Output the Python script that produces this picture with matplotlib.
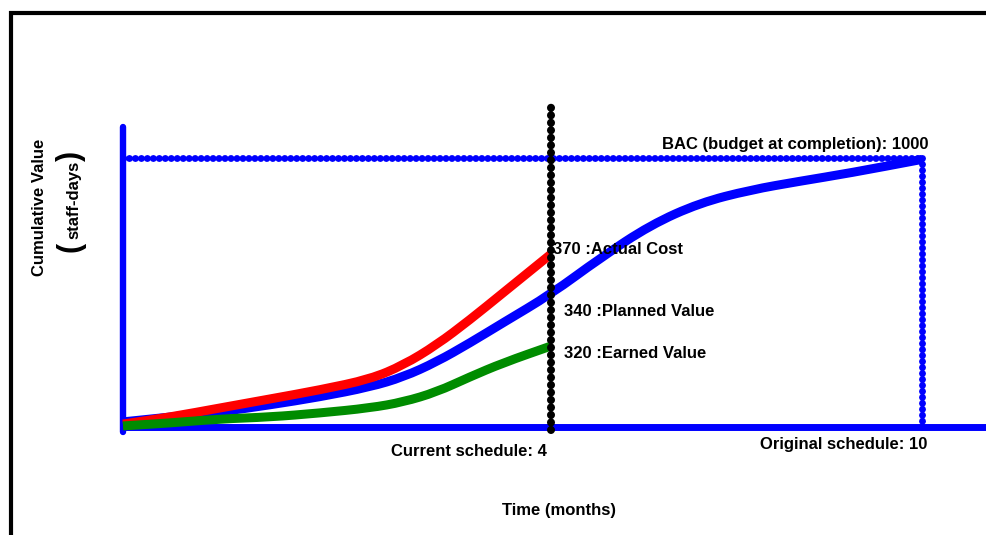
import matplotlib
matplotlib.use("Agg")
import matplotlib.pyplot as plt
from matplotlib.path import Path
from matplotlib.patches import PathPatch

plt.rcParams['font.family'] = ['Liberation Sans', 'DejaVu Sans']
plt.rcParams['font.weight'] = 'bold'

# ---- data (schematic plot units: x in "month-like" units, y in staff-days) ----
pv_x = [0.0, 0.44, 0.91, 1.37, 1.84, 2.31, 2.62, 2.93, 3.24, 3.55, 4.0,
        4.46, 4.93, 5.39, 5.86, 6.33, 6.79, 7.47]
pv_y = [19, 37, 56, 82, 112, 149, 186, 242, 312, 387, 494,
        628, 751, 833, 881, 914, 944, 995]

ac_x = [0.0, 0.44, 0.91, 1.37, 1.84, 2.31, 2.62, 2.93, 3.24, 3.55, 4.0]
ac_y = [11, 37, 71, 104, 138, 178, 230, 305, 398, 498, 643]

ev_x = [0.0, 0.44, 0.91, 1.37, 1.84, 2.31, 2.62, 2.93, 3.24, 3.55, 4.0]
ev_y = [4, 15, 30, 37, 52, 71, 93, 130, 186, 238, 301]

bac = 1000
current_pos = 4.0        # position of "current schedule" line
original_pos = 7.47      # position of "original schedule" line
current_label = 4
original_label = 10
ac_value, pv_value, ev_value = 370, 340, 320

W, H = 987, 535
fig = plt.figure(figsize=(W / 100, H / 100), dpi=100)
ax = fig.add_axes([0, 0, 1, 1])
px_per_x = 107.0
px_per_y = 0.269
x0, y0 = 123, 427
ax.set_xlim(-x0 / px_per_x, (W - x0) / px_per_x)
ax.set_ylim((y0 - H) / px_per_y, y0 / px_per_y)
ax.axis('off')

def P(px, py):
    return (px / W, 1 - py / H)

def smooth_curve(xs, ys, **kw):
    pts = list(zip(xs, ys))
    verts = [pts[0]]
    codes = [Path.MOVETO]
    mid = lambda a, b: ((a[0] + b[0]) / 2, (a[1] + b[1]) / 2)
    verts.append(mid(pts[0], pts[1])); codes.append(Path.LINETO)
    for i in range(1, len(pts) - 1):
        verts += [pts[i], mid(pts[i], pts[i + 1])]
        codes += [Path.CURVE3, Path.CURVE3]
    verts.append(pts[-1]); codes.append(Path.LINETO)
    patch = PathPatch(Path(verts, codes), fill=False, capstyle='butt',
                      joinstyle='round', **kw)
    ax.add_patch(patch)

# outer black frame (left and top)
ax.plot([11 / W, 11 / W, 1.01], [-0.01, 1 - 13 / H, 1 - 13 / H], color='black',
        lw=3.0, transform=ax.transAxes, solid_joinstyle='miter', clip_on=False)

blue = '#0000ff'
# axes
ax.plot([0, 0], [-18, 1115], color=blue, lw=4.6, solid_capstyle='round')
ax.plot([0, 9], [0, 0], color=blue, lw=5.0, solid_capstyle='butt')

# BAC dotted line and original schedule dotted line
dot = (0, (0.01, 0.85))
ax.plot([0, original_pos], [bac, bac], color=blue, lw=5.0, linestyle=dot,
        dash_capstyle='round')
ax.plot([original_pos, original_pos], [bac, 0], color=blue, lw=5.0, linestyle=dot,
        dash_capstyle='round')

# curves
smooth_curve(pv_x, pv_y, edgecolor=blue, lw=6.5, zorder=3)
smooth_curve(ac_x, ac_y, edgecolor='#ff0000', lw=6.5, zorder=3)
smooth_curve(ev_x, ev_y, edgecolor='#008c00', lw=6.5, zorder=4)

# current schedule black dotted line
ax.plot([current_pos, current_pos], [-11, 1197], color='black', lw=5.8,
        linestyle=(0, (0.01, 0.92)), dash_capstyle='round', zorder=5)

fs = 12
ax.text(*P(553, 250), f"{ac_value} :Actual Cost", transform=ax.transAxes, fontsize=fs,
        fontweight='bold', ha='left', va='center', zorder=6)
ax.text(*P(564, 312), f"{pv_value} :Planned Value", transform=ax.transAxes, fontsize=fs,
        fontweight='bold', ha='left', va='center', zorder=6)
ax.text(*P(564, 354), f"{ev_value} :Earned Value", transform=ax.transAxes, fontsize=fs,
        fontweight='bold', ha='left', va='center', zorder=6)
ax.text(*P(929, 144), f"BAC (budget at completion): {bac}", transform=ax.transAxes,
        fontsize=fs, fontweight='bold', ha='right', va='center')
ax.text(*P(547, 452), f"Current schedule: {current_label}", transform=ax.transAxes,
        fontsize=fs, fontweight='bold', ha='right', va='center')
ax.text(*P(927, 444), f"Original schedule: {original_label}", transform=ax.transAxes,
        fontsize=fs, fontweight='bold', ha='right', va='center')
ax.text(*P(559, 511), "Time (months)", transform=ax.transAxes, fontsize=fs,
        fontweight='bold', ha='center', va='center')

ax.text(*P(40, 207), "Cumulative Value", transform=ax.transAxes, fontsize=fs,
        fontweight='bold', ha='center', va='center', rotation=90)
ax.text(*P(74, 200), "staff-days", transform=ax.transAxes, fontsize=fs,
        fontweight='bold', ha='center', va='center', rotation=90)
ax.text(*P(71, 247), "(", transform=ax.transAxes, fontsize=22,
        fontweight='bold', ha='center', va='center', rotation=90)
ax.text(*P(71, 156), ")", transform=ax.transAxes, fontsize=22,
        fontweight='bold', ha='center', va='center', rotation=90)

fig.savefig("out.png", dpi=100)
